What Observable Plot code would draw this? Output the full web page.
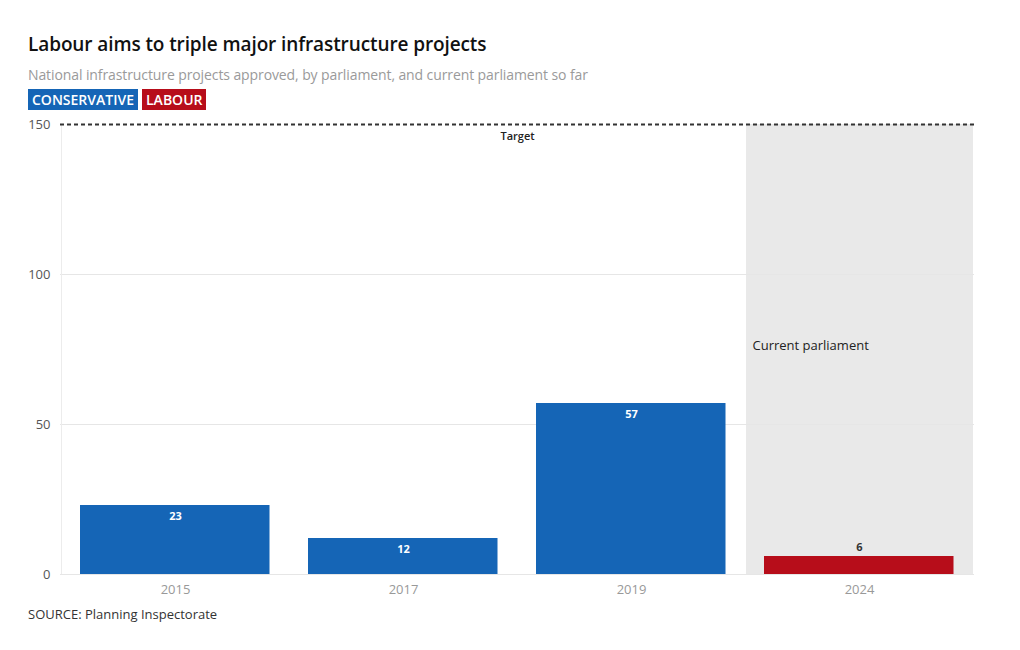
<!DOCTYPE html>
<html><head><meta charset="utf-8">
<script src="https://cdn.jsdelivr.net/npm/d3@7"></script>
<script src="https://cdn.jsdelivr.net/npm/@observablehq/plot@0.6"></script>
<style>
body{margin:0;background:#fff;font-family:"Open Sans",sans-serif;}
#wrap{width:1020px;padding-top:31px;}
h1{margin:0 0 0 28px;font-size:19px;line-height:26px;font-weight:600;color:#111;letter-spacing:-0.1px;}
.sub{margin:8px 0 0 28px;font-size:14px;line-height:20px;color:#9a9a9a;letter-spacing:-0.1px;font-weight:400;}
.legend{margin:4px 0 0 28px;display:flex;gap:4px;height:21px;}
.legend span{color:#fff;font-size:14px;font-weight:600;padding:0 4px;height:21px;line-height:21px;}
#chart{margin-top:2px;height:492px;}
#chart svg{display:block;}
.src{margin:1px 0 0 28px;font-size:13px;color:#333;}
</style></head>
<body><div id="wrap">
<h1>Labour aims to triple major infrastructure projects</h1>
<div class="sub">National infrastructure projects approved, by parliament, and current parliament so far</div>
<div class="legend"><span style="background:#1565b6">CONSERVATIVE</span><span style="background:#b70d1a">LABOUR</span></div>
<div id="chart"></div>
<div class="src">SOURCE: Planning Inspectorate</div>
</div>
<script>
const years = ["2015","2017","2019","2024"];
const values = [23, 12, 57, 6];
const parties = ["Conservative","Conservative","Conservative","Labour"];
const target = 150;
const yTicks = [0, 50, 100, 150];
const currentYear = "2024";
const annotationValue = 76.5;

const data = years.map((y,i)=>({year:y, value:values[i], party:parties[i]}));
const colors = {Conservative:"#1565b6", Labour:"#b70d1a"};

const chart = Plot.plot({
  width: 1020, height: 492,
  marginLeft: 60, marginRight: 46, marginTop: 12, marginBottom: 30,
  style:{fontFamily:"Open Sans, sans-serif", fontSize:"13px", background:"transparent"},
  x:{domain:years, padding:0, label:null},
  y:{domain:[0,150], label:null},
  marks:[
    Plot.barY([currentYear], {x:d=>d, y:()=>target, fill:"#e9e9e9", insetLeft:1}),
    Plot.gridY([50,100], {stroke:"#e6e6e6", strokeOpacity:1}),
    Plot.ruleX([years[0]], {x:d=>d, y1:0, y2:target, stroke:"#ececec", dx:-114}),
    Plot.ruleY([0], {stroke:"#e6e6e6"}),
    Plot.barY(data, {x:"year", y:"value", fill:d=>colors[d.party], insetLeft:19, insetRight:19.5}),
    Plot.ruleY([target], {stroke:"#333", strokeWidth:2, strokeDasharray:"4,3"}),
    Plot.text(["Target"], {frameAnchor:"top", dy:8, fontWeight:600, fontSize:11, fill:"#222"}),
    Plot.text(data.filter(d=>d.value>10), {x:"year", y:"value", text:d=>String(d.value), dy:11, fill:"#fff", fontWeight:700, fontSize:11}),
    Plot.text(data.filter(d=>d.value<=10), {x:"year", y:"value", text:d=>String(d.value), dy:-9, fill:"#333", fontWeight:700, fontSize:11}),
    Plot.text(["Current parliament"], {x:()=>currentYear, y:()=>annotationValue, textAnchor:"start", dx:-107, dy:1, fill:"#222", fontSize:13}),
    Plot.axisY(yTicks, {tickSize:0, tickPadding:10, fill:"#555", fontSize:13}),
    Plot.axisX({tickSize:0, tickPadding:10, fill:"#999", fontSize:13})
  ]
});
document.getElementById("chart").append(chart);
</script>
</body></html>
